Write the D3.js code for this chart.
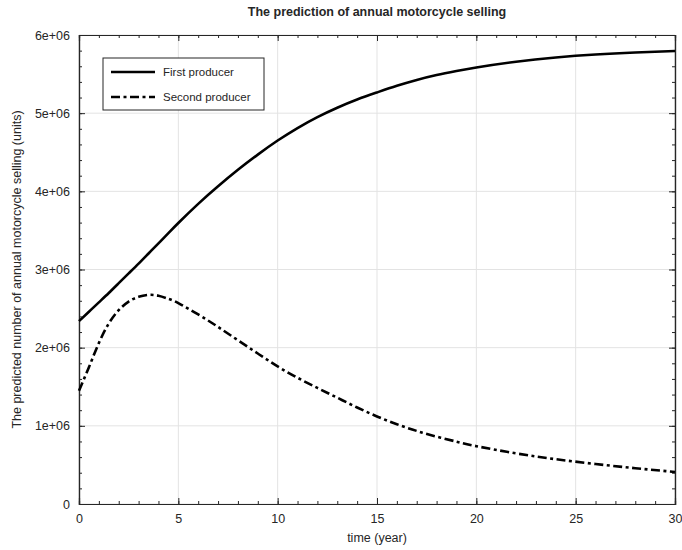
<!DOCTYPE html>
<html lang="en">
<head>
<meta charset="UTF-8">
<title>Motorcycle selling</title>
<script src="https://d3js.org/d3.v7.min.js"></script>
<style>
body {
  margin: 0;
  background: white;
}
text {
  font-family: "Liberation Sans", Arial, Helvetica, sans-serif;
  fill: #262626;
}
.grid line {
  stroke: #e3e3e3;
  stroke-width: 1;
}
.axis path, .axis line {
  stroke: #262626;
}
</style>
</head>
<body>
<div id="chart"></div>
<script>

// years (x) and predicted selling per producer
var years = [0, 0.5, 1, 1.5, 2, 2.5, 3, 3.5, 4, 4.5, 5, 6, 7, 8, 9, 10, 11, 12, 13, 14,
             15, 16, 17, 18, 19, 20, 22, 24, 26, 28, 30];
var firstProducer = [2.34e6, 2.46e6, 2.58e6, 2.70e6, 2.825e6, 2.95e6, 3.075e6, 3.205e6, 3.335e6, 3.465e6,
                     3.595e6, 3.84e6, 4.065e6, 4.275e6, 4.47e6, 4.65e6, 4.81e6, 4.95e6, 5.07e6, 5.175e6,
                     5.265e6, 5.35e6, 5.425e6, 5.488e6, 5.54e6, 5.585e6, 5.658e6, 5.712e6, 5.75e6, 5.776e6, 5.795e6];
var secondProducer = [1.45e6, 1.75e6, 2.06e6, 2.31e6, 2.48e6, 2.59e6, 2.65e6, 2.675e6, 2.665e6, 2.625e6,
                      2.57e6, 2.425e6, 2.265e6, 2.095e6, 1.925e6, 1.76e6, 1.615e6, 1.485e6, 1.36e6, 1.235e6,
                      1.12e6, 1.02e6, 0.935e6, 0.862e6, 0.798e6, 0.74e6, 0.648e6, 0.573e6, 0.512e6, 0.458e6, 0.41e6];
var seriesNames = ["First producer", "Second producer"];
var xTicks = [0, 5, 10, 15, 20, 25, 30];
var yTicks = [0, 1e6, 2e6, 3e6, 4e6, 5e6, 6e6];
var yTickLabels = ["0", "1e+06", "2e+06", "3e+06", "4e+06", "5e+06", "6e+06"];

var W = 682, H = 550;
var margin = {top: 35, right: 7, bottom: 46, left: 79};
var width = W - margin.left - margin.right,
    height = H - margin.top - margin.bottom;

var svg = d3.select("#chart")
    .append("svg")
    .attr("width", W)
    .attr("height", H);

var g = svg.append("g")
    .attr("transform", "translate(" + margin.left + "," + margin.top + ")");

var x = d3.scaleLinear().domain([0, 30]).range([0, width]);
var y = d3.scaleLinear().domain([0, 6e6]).range([height, 0]);

// grid
var grid = g.append("g").attr("class", "grid");
grid.selectAll(".gx").data(xTicks).enter().append("line")
    .attr("x1", function(d) { return x(d); })
    .attr("x2", function(d) { return x(d); })
    .attr("y1", 0).attr("y2", height);
grid.selectAll(".gy").data(yTicks).enter().append("line")
    .attr("y1", function(d) { return y(d); })
    .attr("y2", function(d) { return y(d); })
    .attr("x1", 0).attr("x2", width);

// axes, ticks point inward
var xMinor = d3.range(0, 31, 1);
var yMinor = d3.range(0, 6e6 + 1, 2e5);

function addAxis(axis, transform, cls) {
  g.append("g").attr("class", "axis " + cls)
    .attr("transform", transform)
    .call(axis);
}

addAxis(d3.axisBottom(x).tickValues(xMinor).tickSize(-3).tickFormat(""), "translate(0," + height + ")", "minor");
addAxis(d3.axisTop(x).tickValues(xMinor).tickSize(-3).tickFormat(""), "translate(0,0)", "minor");
addAxis(d3.axisLeft(y).tickValues(yMinor).tickSize(-3).tickFormat(""), "translate(0,0)", "minor");
addAxis(d3.axisRight(y).tickValues(yMinor).tickSize(-3).tickFormat(""), "translate(" + width + ",0)", "minor");

addAxis(d3.axisBottom(x).tickValues(xTicks).tickSize(-6).tickPadding(10).tickFormat(d3.format("d")),
        "translate(0," + height + ")", "xaxis");
addAxis(d3.axisTop(x).tickValues(xTicks).tickSize(-6).tickFormat(""), "translate(0,0)", "top");
addAxis(d3.axisLeft(y).tickValues(yTicks).tickSize(-6).tickPadding(9)
          .tickFormat(function(d, i) { return yTickLabels[i]; }), "translate(0,0)", "yaxis");
addAxis(d3.axisRight(y).tickValues(yTicks).tickSize(-6).tickFormat(""), "translate(" + width + ",0)", "right");

g.selectAll(".axis path").attr("stroke-width", 1.2);
g.selectAll(".xaxis text, .yaxis text")
    .style("font-size", "12.5px")
    .attr("fill", "#262626");

// lines
var lineStyles = ["none", "9,3.5,3,3.5"];
var allSeries = [firstProducer, secondProducer];

var line = d3.line()
    .curve(d3.curveNatural)
    .x(function(d, i) { return x(years[i]); })
    .y(function(d) { return y(d); });

g.selectAll(".series").data(allSeries).enter().append("path")
    .attr("class", "series")
    .attr("d", line)
    .attr("fill", "none")
    .attr("stroke", "black")
    .attr("stroke-width", 2.6)
    .attr("stroke-dasharray", function(d, i) { return lineStyles[i]; });

// legend
var legend = g.append("g").attr("transform", "translate(24,23)");
legend.append("rect")
    .attr("width", 161).attr("height", 52)
    .attr("fill", "white")
    .attr("stroke", "#262626")
    .attr("stroke-width", 1);
var item = legend.selectAll(".item").data(seriesNames).enter().append("g")
    .attr("transform", function(d, i) { return "translate(0," + (14 + i * 25) + ")"; });
item.append("line")
    .attr("x1", 8).attr("x2", 52)
    .attr("stroke", "black")
    .attr("stroke-width", 2.6)
    .attr("stroke-dasharray", function(d, i) { return lineStyles[i]; });
item.append("text")
    .attr("x", 60).attr("dy", "0.35em")
    .style("font-size", "11.5px")
    .text(function(d) { return d; });

// titles
svg.append("text")
    .attr("x", margin.left + width / 2).attr("y", 16)
    .attr("text-anchor", "middle")
    .style("font-size", "12.5px")
    .style("font-weight", "bold")
    .attr("fill", "black")
    .text("The prediction of annual motorcycle selling");

svg.append("text")
    .attr("x", margin.left + width / 2).attr("y", 542)
    .attr("text-anchor", "middle")
    .style("font-size", "12.5px")
    .text("time (year)");

svg.append("text")
    .attr("transform", "translate(21," + (margin.top + height / 2) + ") rotate(-90)")
    .attr("text-anchor", "middle")
    .style("font-size", "12.5px")
    .text("The predicted number of annual motorcycle selling (units)");

</script>
</body>
</html>
